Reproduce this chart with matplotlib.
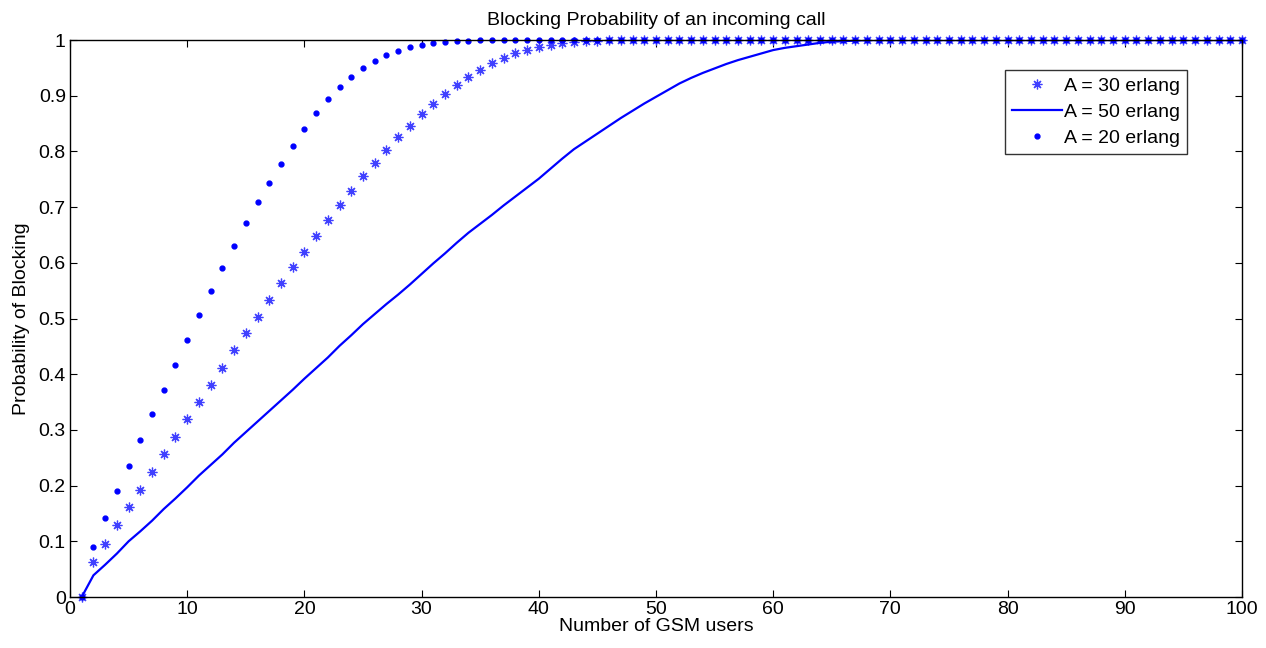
import numpy as np
import matplotlib
matplotlib.use('Agg')
import matplotlib.pyplot as plt

plt.rcParams['font.family'] = ['Liberation Sans', 'DejaVu Sans']

users = np.arange(1, 101)

# A = 30 erlang (stars)
pb_30 = [0, 0.062, 0.096, 0.129, 0.161, 0.192, 0.224, 0.257, 0.288, 0.319,
         0.351, 0.381, 0.411, 0.443, 0.474, 0.503, 0.533, 0.563, 0.592, 0.620,
         0.648, 0.677, 0.703, 0.729, 0.756, 0.780, 0.802, 0.826, 0.846, 0.867,
         0.885, 0.904, 0.920, 0.934, 0.947, 0.958, 0.967, 0.976, 0.982, 0.987,
         0.991, 0.994, 0.996, 0.998, 0.999] + [1.0] * 55

# A = 50 erlang (line)
pb_50 = [0, 0.039, 0.058, 0.078, 0.100, 0.118, 0.137, 0.158, 0.177, 0.197,
         0.218, 0.237, 0.256, 0.277, 0.296, 0.315, 0.334, 0.353, 0.372, 0.392,
         0.411, 0.430, 0.451, 0.470, 0.490, 0.508, 0.526, 0.543, 0.561, 0.580,
         0.599, 0.617, 0.636, 0.654, 0.670, 0.686, 0.703, 0.719, 0.735, 0.751,
         0.769, 0.787, 0.804, 0.818, 0.832, 0.846, 0.860, 0.873, 0.886, 0.898,
         0.910, 0.922, 0.932, 0.941, 0.949, 0.957, 0.964, 0.970, 0.976, 0.982,
         0.986, 0.989, 0.992, 0.995, 0.997, 0.998, 0.999] + [1.0] * 33

# A = 20 erlang (dots)
pb_20 = [0, 0.090, 0.141, 0.190, 0.236, 0.281, 0.328, 0.372, 0.417, 0.461,
         0.507, 0.550, 0.590, 0.631, 0.671, 0.710, 0.744, 0.778, 0.810, 0.841,
         0.869, 0.894, 0.916, 0.934, 0.950, 0.962, 0.973, 0.981, 0.987, 0.991,
         0.995, 0.997, 0.998, 0.999] + [1.0] * 66

fig = plt.figure(figsize=(12.66, 6.48), dpi=100)
ax = fig.add_axes([0.0553, 0.0787, 0.9257, 0.8595])

ax.plot(users, pb_30, linestyle='none', marker=(8, 2, 0), color='#4040ff',
        markersize=7, markeredgewidth=0.9, label='A = 30 erlang', clip_on=False)
ax.plot(users, pb_50, '-', color='blue', linewidth=1.6, label='A = 50 erlang')
ax.plot(users, pb_20, '.', color='blue', markersize=7, label='A = 20 erlang',
        clip_on=False)

ax.set_xlim(0, 100)
ax.set_ylim(0, 1)
ax.set_xticks(np.arange(0, 101, 10))
ax.set_yticks(np.arange(0, 1.01, 0.1))
ax.set_yticklabels(['0', '0.1', '0.2', '0.3', '0.4', '0.5', '0.6', '0.7', '0.8', '0.9', '1'])
ax.tick_params(direction='in', top=True, right=True, labelsize=14, length=5,
               width=0.8, pad=3)
for s in ax.spines.values():
    s.set_linewidth(1.0)

ax.set_xlabel('Number of GSM users', fontsize=14, labelpad=0)
ax.set_ylabel('Probability of Blocking', fontsize=14, labelpad=6)
ax.set_title('Blocking Probability of an incoming call', fontsize=14, pad=11)

leg = ax.legend(loc='upper right', bbox_to_anchor=(0.953, 0.946), fontsize=14,
                frameon=True, fancybox=False, edgecolor='black',
                handlelength=2.6, borderpad=0.35, labelspacing=0.45,
                handletextpad=0.1, borderaxespad=0)
leg.get_frame().set_linewidth(1.0)

fig.savefig('out.png', dpi=100)
